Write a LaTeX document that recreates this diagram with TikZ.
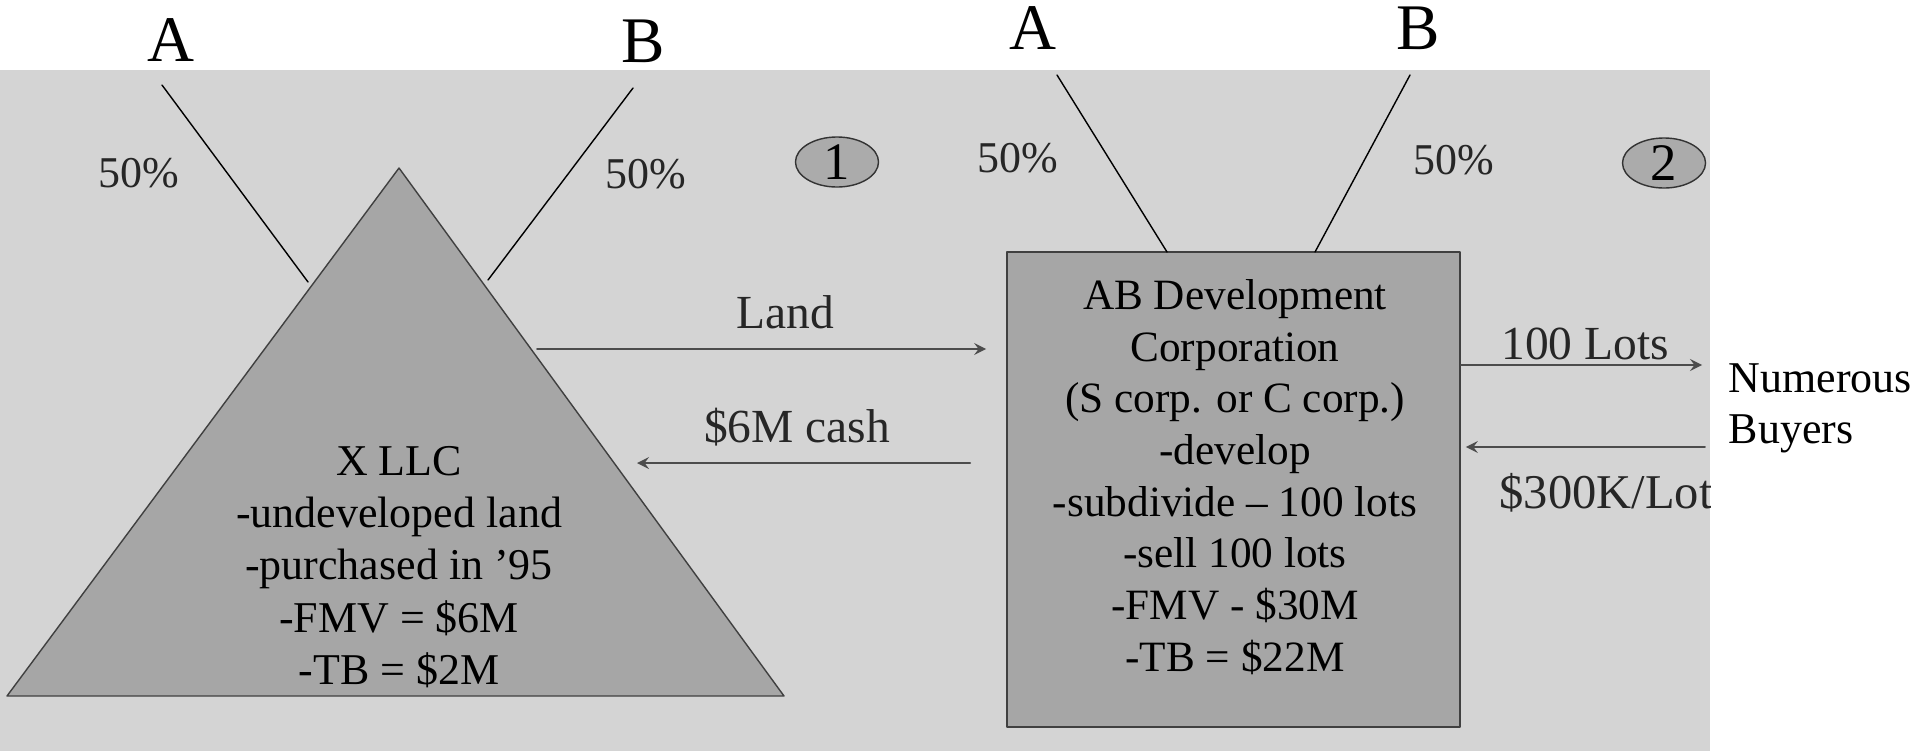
\documentclass[tikz,border=0pt]{standalone}
\usepackage{fontspec}
\setmainfont{Liberation Serif}
\usetikzlibrary{shapes.geometric}
\definecolor{paper}{HTML}{D4D4D4}
\definecolor{entity}{HTML}{A6A6A6}
\definecolor{stepfill}{HTML}{ABABAB}
\begin{document}
\begin{tikzpicture}[x=0.01cm, y=-0.01cm, line join=round, line cap=round, >=stealth,
	owner/.style={font=\fontsize{18.5}{22}\selectfont},
	pct/.style={font=\fontsize{12.5}{15}\selectfont, text=black!85},
	deal/.style={font=\fontsize{13.5}{16}\selectfont, text=black!85},
	flow/.style={->, draw=black!70, line width=0.5pt},
	stepmark/.style={ellipse, draw=black!80, fill=stepfill, minimum width=0.83cm, minimum height=0.5cm, inner sep=0pt, font=\fontsize{15}{17}\selectfont}]
	\useasboundingbox (0,0) rectangle (1913,751);
	\fill[paper] (0,70) rectangle (1710,751);
	% step 1: X LLC
	\coordinate (apex) at (399,168);
	\coordinate (baseL) at (7,696);
	\coordinate (baseR) at (784,696);
	\filldraw[fill=entity, draw=black!75] (apex) -- (baseL) -- (baseR) -- cycle;
	\node[align=center, font=\fontsize{12.5}{14.9}\selectfont] (xllc) at (399,567) {X LLC\\-undeveloped land\\-purchased in '95\\-FMV = \$6M\\-TB = \$2M};
	\node[owner] (ownA1) at (171,40) {A};
	\node[owner] (ownB1) at (643,41) {B};
	\coordinate (tieA1) at (162,85);
	\coordinate (tieB1) at (633,88);
	\coordinate (endA1) at (308,282);
	\coordinate (endB1) at (488,280);
	\draw (tieA1) -- (endA1);
	\draw (tieB1) -- (endB1);
	\node[pct] (pctA1) at (139,173) {50\%};
	\node[pct] (pctB1) at (646,174) {50\%};
	\node[stepmark] (step1) at (837,162) {1};
	% step 2: AB Development Corporation
	\node[draw=black!75, fill=entity, minimum width=4.53cm, minimum height=4.75cm, inner sep=0pt] (abcorp) at (1233.5,489.5) {};
	\node[align=center, font=\fontsize{12.3}{14.7}\selectfont] (abtext) at (1235,477) {AB Development\\Corporation\\(S corp. or C corp.)\\-develop\\-subdivide -- 100 lots\\-sell 100 lots\\-FMV - \$30M\\-TB = \$22M};
	\node[owner] (ownA2) at (1033,28) {A};
	\node[owner] (ownB2) at (1418,28) {B};
	\coordinate (tieA2) at (1057,75);
	\coordinate (tieB2) at (1410,75);
	\coordinate (endA2) at (1167,252);
	\coordinate (endB2) at (1315,252);
	\draw (tieA2) -- (endA2);
	\draw (tieB2) -- (endB2);
	\node[pct] (pctA2) at (1018,158) {50\%};
	\node[pct] (pctB2) at (1454,160) {50\%};
	\node[stepmark] (step2) at (1664,163) {2};
	% flows between the two
	\coordinate (landfrom) at (537,349);
	\draw[flow, shorten >=0.2cm] (landfrom) -- (landfrom -| abcorp.west);
	\node[deal] (land) at (785,312) {Land};
	\coordinate (cashto) at (637,463);
	\draw[flow, shorten <=0.36cm] (cashto -| abcorp.west) -- (cashto);
	\node[deal] (cash) at (797,427) {\$6M cash};
	% buyers
	\node[align=left, anchor=north west, inner sep=0pt, font=\fontsize{12.5}{14.5}\selectfont] (buyers) at (1728,363) {Numerous\\Buyers};
	\coordinate (lotsto) at (1702,365);
	\draw[flow] (lotsto -| abcorp.east) -- (lotsto);
	\node[deal] (lots) at (1585,344) {100 Lots};
	\coordinate (payfrom) at (1705,447);
	\draw[flow, shorten >=0.05cm] (payfrom) -- (payfrom -| abcorp.east);
	\begin{scope}
		\clip (0,0) rectangle (1710,751);
		\node[deal, anchor=west, inner sep=0pt, font=\fontsize{13.8}{16}\selectfont] (price) at (1499,493) {\$300K/Lot};
	\end{scope}
\end{tikzpicture}
\end{document}
